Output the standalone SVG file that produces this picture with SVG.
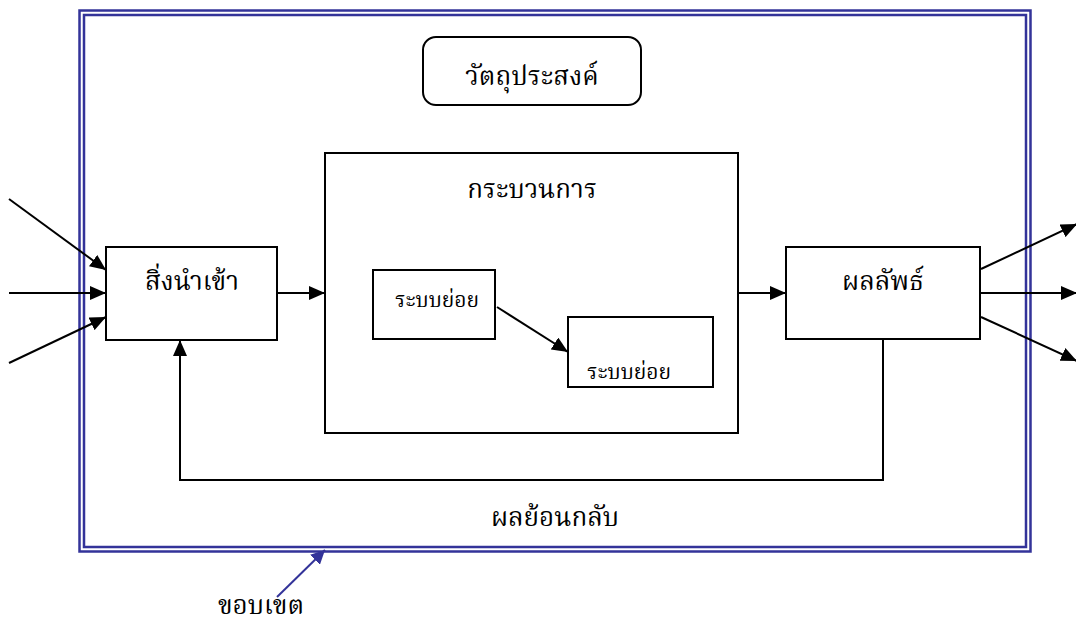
<svg xmlns="http://www.w3.org/2000/svg" width="1076" height="621" viewBox="0 0 1076 621">
<defs>
<marker id="ahb" markerWidth="14" markerHeight="14" refX="14" refY="7" orient="auto" markerUnits="userSpaceOnUse" viewBox="0 0 14 14">
<path d="M0,0 L14,7 L0,14 Z" fill="#333399"/>
</marker>
<marker id="ahk" markerWidth="16" markerHeight="14" refX="16" refY="7" orient="auto" markerUnits="userSpaceOnUse" viewBox="0 0 16 14">
<path d="M0,0 L16,7 L0,14 Z" fill="#000"/>
</marker>
</defs>
<style>
.box{fill:#fff;stroke:#000;stroke-width:2}
.bd{fill:none;stroke:#333399;stroke-width:2.5}
.ln{fill:none;stroke:#000;stroke-width:2}
.t{font-family:"Liberation Serif","Noto Serif Thai","Noto Sans Thai",serif;fill:#000;text-anchor:middle}
.big{font-size:26px}
.sm{font-size:21px}
</style>
<rect width="1076" height="621" fill="#fff"/>
<g id="boundary">
<rect class="bd" x="79.5" y="10.5" width="951" height="541"/>
<rect class="bd" x="84" y="15" width="942" height="532"/>
</g>
<g id="objective">
<rect class="box" x="423" y="37" width="218" height="68" rx="13"/>
<text class="t big" x="532" y="85">วัตถุประสงค์</text>
</g>
<g id="process">
<rect class="box" x="325" y="153" width="413" height="280"/>
<text class="t big" x="532" y="198">กระบวนการ</text>
</g>
<g id="input">
<rect class="box" x="106" y="247" width="171" height="93"/>
<text class="t big" x="192" y="290">สิ่งนำเข้า</text>
</g>
<g id="output">
<rect class="box" x="786" y="247" width="194" height="92"/>
<text class="t big" x="883" y="290">ผลลัพธ์</text>
</g>
<g id="sub1">
<rect class="box" x="373" y="270" width="122" height="69"/>
<text class="t sm" x="437" y="307">ระบบย่อย</text>
</g>
<g id="sub2">
<rect class="box" x="568" y="317" width="145" height="70"/>
<text class="t sm" x="629" y="379">ระบบย่อย</text>
</g>
<g id="connectors">
<line class="ln" x1="9" y1="199" x2="106" y2="270" marker-end="url(#ahk)"/>
<line class="ln" x1="9" y1="293" x2="106" y2="293" marker-end="url(#ahk)"/>
<line class="ln" x1="9" y1="363" x2="106" y2="317" marker-end="url(#ahk)"/>
<line class="ln" x1="277" y1="293" x2="325" y2="293" marker-end="url(#ahk)"/>
<line class="ln" x1="497" y1="307" x2="568" y2="352" marker-end="url(#ahk)"/>
<line class="ln" x1="738" y1="293" x2="786" y2="293" marker-end="url(#ahk)"/>
<line class="ln" x1="981" y1="269" x2="1077" y2="224" marker-end="url(#ahk)"/>
<line class="ln" x1="980" y1="293" x2="1077" y2="293" marker-end="url(#ahk)"/>
<line class="ln" x1="981" y1="317" x2="1077" y2="361" marker-end="url(#ahk)"/>
<polyline class="ln" points="883,339 883,480 180,480 180,340" marker-end="url(#ahk)"/>
<line x1="277" y1="597" x2="325" y2="550" stroke="#333399" stroke-width="2" marker-end="url(#ahb)"/>
</g>
<g id="labels">
<text class="t big" x="555" y="526">ผลย้อนกลับ</text>
<text class="t big" x="261" y="614">ขอบเขต</text>
</g>
</svg>
